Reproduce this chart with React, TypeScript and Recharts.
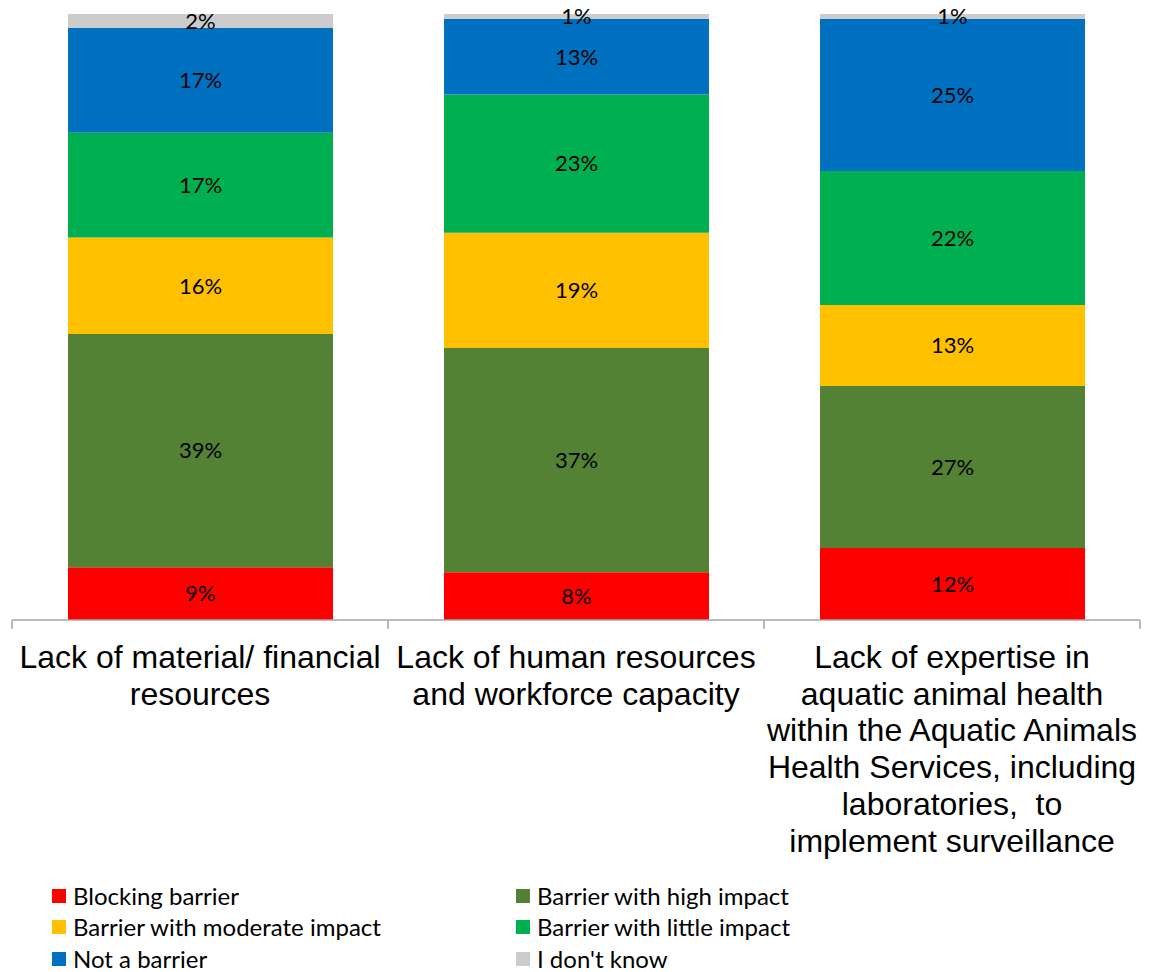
import { BarChart, Bar, XAxis, YAxis, LabelList, Legend } from 'recharts'

const CATEGORIES = [
  ['Lack of material/ financial', 'resources'],
  ['Lack of human resources', 'and workforce capacity'],
  [
    'Lack of expertise in',
    'aquatic animal health',
    'within the Aquatic Animals',
    'Health Services, including',
    'laboratories,  to',
    'implement surveillance',
  ],
]

// percentages
const BLOCKING = [8.7, 7.9, 11.9]
const HIGH_IMPACT = [38.5, 37.0, 26.7]
const MODERATE_IMPACT = [15.9, 19.0, 13.4]
const LITTLE_IMPACT = [17.3, 22.8, 22.1]
const NOT_BARRIER = [17.3, 12.5, 25.1]
const DONT_KNOW = [2.3, 0.8, 0.8]

const SERIES = [
  { key: 'blocking', name: 'Blocking barrier', color: '#FF0000', values: BLOCKING },
  { key: 'high', name: 'Barrier with high impact', color: '#548235', values: HIGH_IMPACT },
  { key: 'moderate', name: 'Barrier with moderate impact', color: '#FFC000', values: MODERATE_IMPACT },
  { key: 'little', name: 'Barrier with little impact', color: '#00B050', values: LITTLE_IMPACT },
  { key: 'not', name: 'Not a barrier', color: '#0070C0', values: NOT_BARRIER },
  { key: 'dunno', name: "I don't know", color: '#CCCCCC', values: DONT_KNOW },
]

const data = CATEGORIES.map((lines, i) => {
  const row: Record<string, any> = { name: lines.join(' '), lines }
  SERIES.forEach((s) => {
    row[s.key] = s.values[i]
  })
  return row
})

const labelFont = 'Lato, "Noto Sans", sans-serif'
const axisGray = '#A6A6A6'

function formatPct(v: any): string {
  const n = Array.isArray(v) ? v[1] - v[0] : Number(v)
  return `${Math.round(n)}%`
}

// label lines plus the little tick marks that sit between the categories
function CategoryTick(props: any) {
  const { x, y, payload, width, index } = props
  const idx = payload.index ?? index ?? 0
  const row = data[idx] ?? data.find((d) => d.name === payload.value)
  const lines: string[] = row ? row.lines : [String(payload.value)]
  const band = width / data.length
  const edges = idx === data.length - 1 ? [x - band / 2, x + band / 2] : [x - band / 2]
  return (
    <g>
      {edges.map((ex, i) => (
        <line key={i} x1={ex} x2={ex} y1={y} y2={y + 9} stroke={axisGray} strokeWidth={1.5} />
      ))}
      <text
        x={x}
        y={y + 48}
        textAnchor="middle"
        fontFamily='"Liberation Sans", Arial, sans-serif'
        fontSize={32}
        fill="#000"
      >
        {lines.map((line, i) => (
          <tspan key={i} x={x} dy={i === 0 ? 0 : 36.7} style={{ whiteSpace: 'pre' }}>
            {line}
          </tspan>
        ))}
      </text>
    </g>
  )
}

function LegendGrid() {
  return (
    <div
      style={{
        display: 'grid',
        gridTemplateColumns: '464px 1fr',
        paddingLeft: 44,
        paddingTop: 10,
        fontFamily: labelFont,
        fontSize: 24,
        lineHeight: '28px',
        color: '#000',
      }}
    >
      {SERIES.map((s) => (
        <div key={s.key} style={{ display: 'flex', alignItems: 'center', height: 31.5 }}>
          <span style={{ width: 14, height: 14, background: s.color, marginRight: 7, flexShrink: 0 }} />
          <span style={{ whiteSpace: 'nowrap' }}>{s.name}</span>
        </div>
      ))}
    </div>
  )
}

export default function App() {
  return (
    <BarChart
      width={1152}
      height={964}
      data={data}
      margin={{ top: 6, right: 20, bottom: 0, left: 4 }}
      barSize={265}
    >
      <XAxis
        dataKey="name"
        type="category"
        height={250}
        axisLine={{ stroke: axisGray, strokeWidth: 1.5 }}
        tickLine={false}
        tickSize={0}
        tickMargin={0}
        interval={0}
        tick={<CategoryTick />}
      />
      <YAxis hide domain={[0, 100]} />
      <Legend verticalAlign="bottom" content={<LegendGrid />} wrapperStyle={{ left: 0, width: 1152, height: 102 }} />
      {SERIES.map((s) => (
        <Bar
          key={s.key}
          dataKey={s.key}
          name={s.name}
          stackId="a"
          fill={s.color}
          isAnimationActive={false}
        >
          <LabelList
            dataKey={s.key}
            position="center"
            formatter={formatPct}
            fill="#000"
            fontFamily={labelFont}
            fontSize={22}
          />
        </Bar>
      ))}
    </BarChart>
  )
}
